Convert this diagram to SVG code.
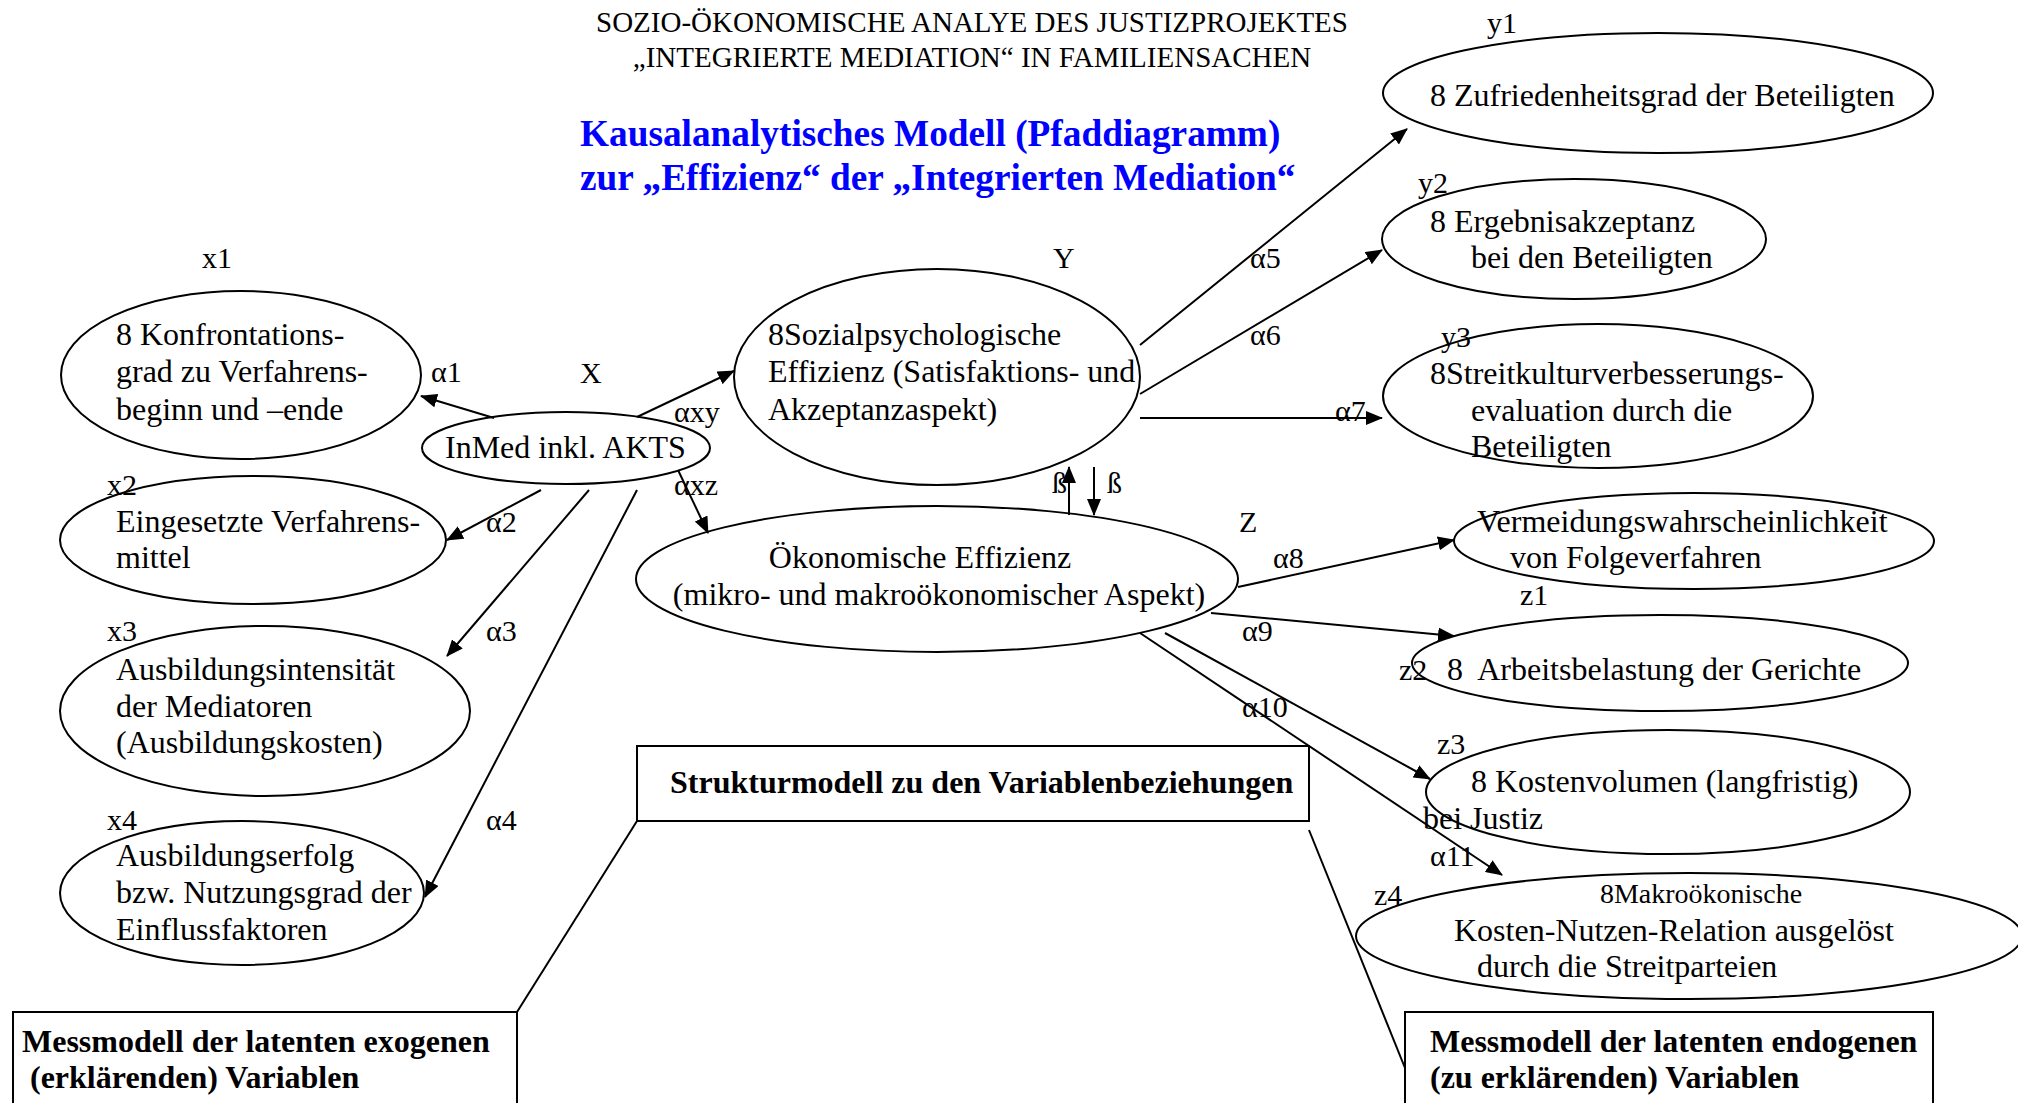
<svg xmlns="http://www.w3.org/2000/svg" width="2018" height="1103" viewBox="0 0 2018 1103">
<style>
text{font-family:"Liberation Serif","Times New Roman",serif;fill:#000}
.t{font-size:29px}
.n{font-size:32px}
.s{font-size:28px}
.l{font-size:30px}
.h{font-size:37.3px;font-weight:bold;fill:#0000FF}
.b{font-size:32px;font-weight:bold}
.e{fill:none;stroke:#000;stroke-width:2}
.r{fill:none;stroke:#000;stroke-width:2}
.c line{stroke:#000;stroke-width:2;fill:none}
.c .a{marker-end:url(#ah)}
</style>
<defs>
<marker id="ah" markerUnits="userSpaceOnUse" markerWidth="18" markerHeight="14" refX="16" refY="7" orient="auto">
<path d="M0,0 L17,7 L0,14 Z" fill="#000"/>
</marker>
</defs>
<rect width="2018" height="1103" fill="#fff"/>

<g id="title">
<text class="t" x="972" y="32" text-anchor="middle">SOZIO-ÖKONOMISCHE ANALYE DES JUSTIZPROJEKTES</text>
<text class="t" x="972" y="67" text-anchor="middle">„INTEGRIERTE MEDIATION“ IN FAMILIENSACHEN</text>
<text class="h" x="580" y="146">Kausalanalytisches Modell (Pfaddiagramm)</text>
<text class="h" x="580" y="190">zur „Effizienz“ der „Integrierten Mediation“</text>
</g>

<g id="connectors" class="c">
<line class="a" x1="494" y1="418" x2="421" y2="396"/>
<line class="a" x1="637" y1="417" x2="734" y2="371"/>
<line class="a" x1="678" y1="470" x2="708" y2="533"/>
<line class="a" x1="541" y1="490" x2="447" y2="540"/>
<line class="a" x1="589" y1="490" x2="447" y2="656"/>
<line class="a" x1="637" y1="490" x2="425" y2="897"/>
<line class="a" x1="1140" y1="345" x2="1407" y2="129"/>
<line class="a" x1="1140" y1="394" x2="1382" y2="250"/>
<line class="a" x1="1140" y1="418" x2="1382" y2="418"/>
<line class="a" x1="1069" y1="515" x2="1069" y2="467"/>
<line class="a" x1="1094" y1="467" x2="1094" y2="515"/>
<line class="a" x1="1238" y1="587" x2="1454" y2="540"/>
<line class="a" x1="1211" y1="613" x2="1454" y2="636"/>
<line class="a" x1="1165" y1="633" x2="1430" y2="779"/>
<line class="a" x1="1140" y1="633" x2="1502" y2="875"/>
<line x1="637" y1="821" x2="517" y2="1012"/>
<line x1="1309" y1="830" x2="1405" y2="1068"/>
</g>

<g id="labels">
<text class="l" x="202" y="268">x1</text>
<text class="l" x="580" y="383">X</text>
<text class="l" x="1053" y="268">Y</text>
<text class="l" x="1487" y="33">y1</text>
<text class="l" x="1418" y="193">y2</text>
<text class="l" x="1441" y="347">y3</text>
<text class="l" x="1239" y="532">Z</text>
<text class="l" x="1520" y="605">z1</text>
<text class="l" x="1399" y="680">z2</text>
<text class="l" x="1437" y="754">z3</text>
<text class="l" x="1374" y="905">z4</text>
<text class="l" x="107" y="495">x2</text>
<text class="l" x="107" y="641">x3</text>
<text class="l" x="107" y="830">x4</text>
<text class="l" x="431" y="382">α1</text>
<text class="l" x="674" y="422">αxy</text>
<text class="l" x="674" y="495">αxz</text>
<text class="l" x="486" y="532">α2</text>
<text class="l" x="486" y="641">α3</text>
<text class="l" x="486" y="830">α4</text>
<text class="l" x="1250" y="268">α5</text>
<text class="l" x="1250" y="345">α6</text>
<text class="l" x="1335" y="421">α7</text>
<text class="l" x="1052" y="493">ß</text>
<text class="l" x="1107" y="493">ß</text>
<text class="l" x="1273" y="568">α8</text>
<text class="l" x="1242" y="641">α9</text>
<text class="l" x="1242" y="717">α10</text>
<text class="l" x="1430" y="866">α11</text>
</g>

<g id="x1">
<ellipse class="e" cx="241" cy="375" rx="180" ry="84"/>
<text class="n" x="116" y="345">8 Konfrontations-</text>
<text class="n" x="116" y="382">grad zu Verfahrens-</text>
<text class="n" x="116" y="420">beginn und –ende</text>
</g>
<g id="inmed">
<ellipse class="e" cx="566" cy="448" rx="144" ry="36"/>
<text class="n" x="445" y="458">InMed inkl. AKTS</text>
</g>
<g id="x2">
<ellipse class="e" cx="253" cy="540" rx="193" ry="64"/>
<text class="n" x="116" y="532">Eingesetzte Verfahrens-</text>
<text class="n" x="116" y="568">mittel</text>
</g>
<g id="x3">
<ellipse class="e" cx="265" cy="711" rx="205" ry="85"/>
<text class="n" x="116" y="680">Ausbildungsintensität</text>
<text class="n" x="116" y="717">der Mediatoren</text>
<text class="n" x="116" y="753">(Ausbildungskosten)</text>
</g>
<g id="x4">
<ellipse class="e" cx="242" cy="893" rx="182" ry="72"/>
<text class="n" x="116" y="866">Ausbildungserfolg</text>
<text class="n" x="116" y="903">bzw. Nutzungsgrad der</text>
<text class="n" x="116" y="940">Einflussfaktoren</text>
</g>
<g id="Y">
<ellipse class="e" cx="937" cy="377" rx="203" ry="108"/>
<text class="n" x="768" y="345">8Sozialpsychologische</text>
<text class="n" x="768" y="382">Effizienz (Satisfaktions- und</text>
<text class="n" x="768" y="420">Akzeptanzaspekt)</text>
</g>
<g id="Z">
<ellipse class="e" cx="937" cy="579" rx="301" ry="73"/>
<text class="n" x="920" y="568" text-anchor="middle">Ökonomische Effizienz</text>
<text class="n" x="939" y="605" text-anchor="middle">(mikro- und makroökonomischer Aspekt)</text>
</g>
<g id="y1">
<ellipse class="e" cx="1658" cy="93" rx="275" ry="60"/>
<text class="n" x="1430" y="106">8 Zufriedenheitsgrad der Beteiligten</text>
</g>
<g id="y2">
<ellipse class="e" cx="1574" cy="239" rx="192" ry="60"/>
<text class="n" x="1430" y="232">8 Ergebnisakzeptanz</text>
<text class="n" x="1471" y="268">bei den Beteiligten</text>
</g>
<g id="y3">
<ellipse class="e" cx="1598" cy="396" rx="215" ry="72"/>
<text class="n" x="1430" y="384">8Streitkulturverbesserungs-</text>
<text class="n" x="1471" y="421">evaluation durch die</text>
<text class="n" x="1471" y="457">Beteiligten</text>
</g>
<g id="z1">
<ellipse class="e" cx="1694" cy="541" rx="240" ry="48"/>
<text class="n" x="1477" y="532">Vermeidungswahrscheinlichkeit</text>
<text class="n" x="1510" y="568">von Folgeverfahren</text>
</g>
<g id="z2">
<ellipse class="e" cx="1660" cy="663" rx="248" ry="48"/>
<text class="n" x="1447" y="680" xml:space="preserve">8  Arbeitsbelastung der Gerichte</text>
</g>
<g id="z3">
<ellipse class="e" cx="1668" cy="792" rx="242" ry="62"/>
<text class="n" x="1471" y="792">8 Kostenvolumen (langfristig)</text>
<text class="n" x="1423" y="829">bei Justiz</text>
</g>
<g id="z4">
<ellipse class="e" cx="1689" cy="936" rx="333" ry="63"/>
<text class="s" x="1701" y="903" text-anchor="middle">8Makroökonische</text>
<text class="n" x="1454" y="941">Kosten-Nutzen-Relation ausgelöst</text>
<text class="n" x="1477" y="977">durch die Streitparteien</text>
</g>
<g id="struktur">
<rect class="r" x="637" y="746" width="672" height="75"/>
<text class="b" x="670" y="793">Strukturmodell zu den Variablenbeziehungen</text>
</g>
<g id="mess-exogen">
<rect class="r" x="13" y="1012" width="504" height="100"/>
<text class="b" x="22" y="1052">Messmodell der latenten exogenen</text>
<text class="b" x="22" y="1088" xml:space="preserve"> (erklärenden) Variablen</text>
</g>
<g id="mess-endogen">
<rect class="r" x="1405" y="1012" width="528" height="100"/>
<text class="b" x="1430" y="1052">Messmodell der latenten endogenen</text>
<text class="b" x="1430" y="1088">(zu erklärenden) Variablen</text>
</g>
</svg>
